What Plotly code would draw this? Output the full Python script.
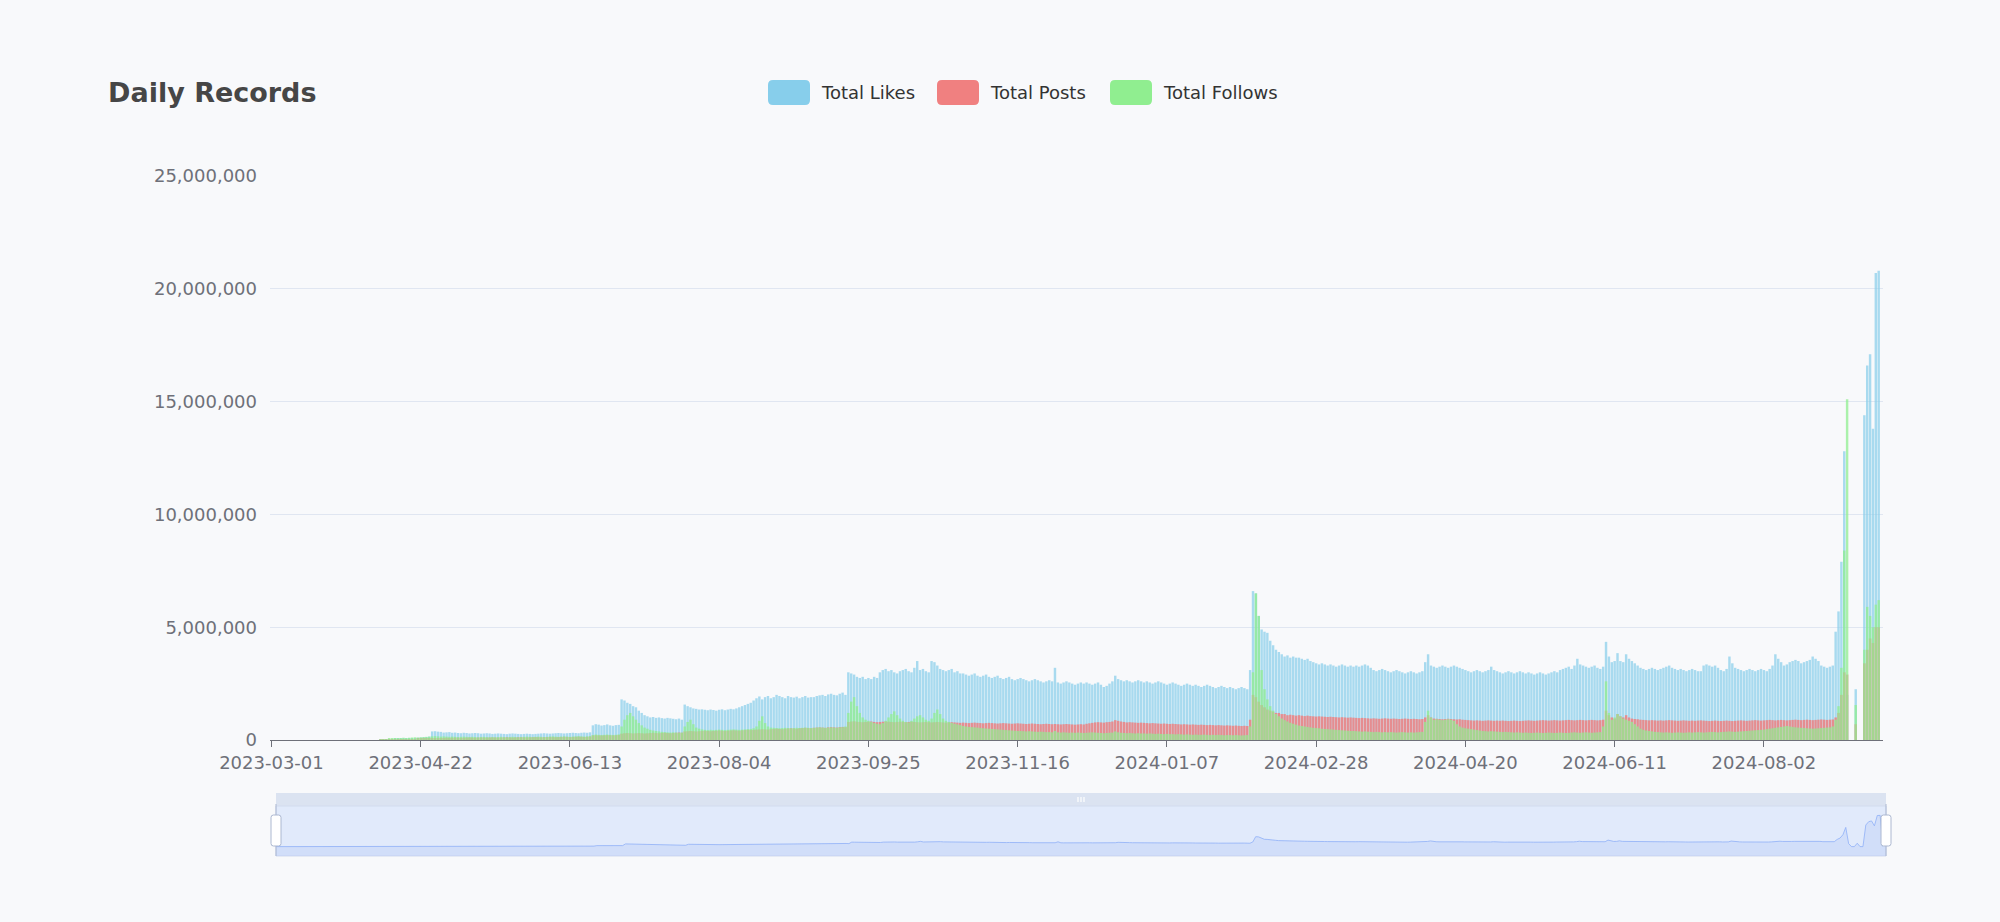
import datetime as dt
import plotly.graph_objects as go

# ---------------- data (values in thousands) ----------------
START = dt.date(2023, 3, 1)
N_DAYS = 562
dates = [(START + dt.timedelta(days=i)).isoformat() for i in range(N_DAYS)]

tick_labels = ["2023-03-01", "2023-04-22", "2023-06-13", "2023-08-04", "2023-09-25",
               "2023-11-16", "2024-01-07", "2024-02-28", "2024-04-20", "2024-06-11",
               "2024-08-02"]

likes_k = [
    0, 0, 0, 0, 0, 0, 0, 0, 0, 0, 0, 0, 0, 0, 0, 0, 0, 0, 0, 0,
    0, 0, 0, 0, 0, 0, 0, 0, 0, 0, 0, 0, 0, 0, 0, 0, 0, 0,
    20, 25, 30, 35, 40, 50, 45, 60, 70, 65, 80, 90, 85, 100, 110, 120, 130, 150,
    380, 390, 370, 360, 330, 340, 350, 320, 330, 310,
    300, 320, 310, 290, 300, 310, 300, 280, 290, 300,
    290, 270, 280, 290, 280, 270, 260, 280, 290, 280,
    270, 260, 270, 280, 270, 260, 270, 280, 290, 300,
    290, 280, 290, 300, 310, 300, 290, 300, 310, 320,
    310, 300, 320, 330, 320, 340,
    650, 700, 680, 640, 660, 690, 650, 630, 660, 670,
    1800, 1750, 1650, 1600, 1500, 1450, 1300, 1200, 1100, 1050,
    1000, 1020, 980, 1000, 970, 950, 980, 960, 940, 920, 950, 900,
    1570, 1500, 1450, 1400, 1380, 1350, 1360, 1340, 1320, 1350,
    1330, 1300, 1340, 1360, 1320, 1350, 1380, 1360, 1400,
    1450, 1500, 1550, 1600, 1650, 1750, 1850, 1930, 1800, 1900,
    1950, 1850, 1900, 2000, 1950, 1900, 1850, 1950, 1900, 1880,
    1920, 1850, 1900, 1950, 1880, 1900,
    1900, 1950, 1980, 2000, 1950, 2020, 2050, 2000, 1980, 2050, 2100, 2000,
    3000, 2950, 2900, 2800, 2750, 2800, 2700, 2750, 2700, 2800, 2750,
    3000, 3100, 3150, 3050, 3100, 3000, 2950, 3050, 3100, 3150,
    3050, 3000, 3200, 3500, 3100, 3150, 3050, 3000, 3500, 3450,
    3300, 3150, 3100, 3050, 3100, 3150, 3000, 3050, 2950,
    2950, 2900, 2850, 2900, 2950, 2850, 2800, 2850, 2900, 2800,
    2750, 2800, 2850, 2750, 2700, 2750, 2800, 2700, 2650, 2700,
    2750, 2700, 2650, 2600, 2650, 2700, 2650, 2600, 2550, 2600,
    2650, 2600, 3200, 2550, 2500, 2550, 2600, 2550, 2500, 2450, 2500, 2550, 2500,
    2550, 2500, 2450, 2500, 2550, 2450, 2350, 2400, 2500, 2600,
    2850, 2700, 2650, 2600, 2650, 2600, 2550, 2600, 2650, 2600,
    2550, 2600, 2550, 2500, 2550, 2600, 2550, 2500, 2450, 2500,
    2550, 2500, 2450, 2400, 2450, 2500, 2450, 2400, 2450, 2400,
    2350, 2400, 2450, 2400, 2350, 2300, 2350, 2400, 2350, 2300,
    2350, 2300, 2250, 2300, 2350, 2300, 2250,
    3100, 6600, 6500, 5500, 4900, 4800, 4750, 4400, 4200, 4000,
    3900, 3800, 3700, 3750, 3650, 3700, 3650, 3650, 3600, 3550,
    3600, 3500, 3450, 3400, 3350, 3400, 3350, 3300, 3350, 3300,
    3250, 3300, 3350, 3300, 3250, 3300, 3250,
    3300, 3250, 3300, 3350, 3300, 3200, 3100, 3050, 3100, 3150,
    3100, 3050, 3000, 3050, 3100, 3050, 3000, 2950, 3000, 3050,
    3000, 2950, 3000, 3050,
    3450, 3800, 3300, 3250, 3200, 3250, 3300, 3250, 3200, 3250, 3300, 3250, 3200,
    3150, 3100, 3050, 3000, 3050, 3100, 3050, 3000, 3050, 3100,
    3250, 3100, 3050, 3000, 2950, 3000, 3050, 3000, 2950, 3000,
    3050, 3000, 2950, 3000, 2950, 2900, 2950, 3000, 2950, 2900,
    2950, 3000, 3050, 3000, 3100, 3150,
    3200, 3250, 3150, 3300, 3600, 3350, 3300, 3250, 3200, 3250,
    3300, 3200, 3150, 3250, 4350, 3700, 3450, 3500,
    3850, 3500, 3450, 3800, 3600, 3500, 3400, 3300, 3200, 3150,
    3100, 3150, 3200, 3150, 3100, 3150, 3200, 3250, 3300, 3200,
    3150, 3100, 3150, 3100, 3050, 3100, 3150, 3100, 3050, 3050,
    3300, 3350, 3300, 3250, 3300, 3200, 3100, 3050, 3150, 3700,
    3400, 3200, 3150, 3100, 3050, 3100, 3150, 3100, 3050, 3100,
    3150, 3100, 3050, 3150, 3300, 3800, 3600, 3450, 3300, 3350,
    3450, 3500, 3550, 3500, 3400, 3450, 3500, 3550, 3700, 3600,
    3500, 3300, 3250, 3200, 3250, 3300, 4800,
    5700, 7900, 12800, 2000, 0, 0, 2250, 0, 0, 14400, 16600, 17100, 13800, 20700, 20800, 0,
]

posts_k = [
    0, 0, 0, 0, 0, 0, 0, 0, 0, 0, 0, 0, 0, 0, 0, 0, 0, 0, 0, 0,
    0, 0, 0, 0, 0, 0, 0, 0, 0, 0, 0, 0, 0, 0, 0, 0, 0, 0,
    5, 8, 10, 12, 15, 18, 20, 22, 25, 28, 30, 35, 40, 45, 50, 55, 60, 70,
    80, 85, 90, 90, 95, 100, 95, 100, 105, 100,
    95, 100, 105, 110, 105, 100, 105, 110, 110, 105,
    110, 115, 110, 105, 110, 115, 120, 115, 110, 115,
    120, 125, 120, 115, 120, 125, 130, 125, 120, 125,
    130, 135, 130, 125, 130, 135, 140, 135, 130, 135,
    140, 145, 140, 135, 140, 150,
    200, 210, 205, 200, 210, 215, 210, 205, 210, 220,
    280, 300, 310, 300, 290, 300, 310, 300, 290, 300,
    310, 320, 310, 300, 310, 320, 310, 300, 310, 320, 330, 320,
    380, 390, 400, 390, 380, 390, 400, 410, 400, 390,
    400, 410, 420, 410, 400, 410, 420, 430, 420, 410,
    430, 440, 450, 440, 450, 460, 470, 480, 470, 460,
    480, 490, 500, 490, 480, 500, 510, 520, 510, 500,
    520, 530, 540, 530, 520,
    540, 550, 560, 550, 540, 560, 570, 560, 550, 570, 580, 570,
    800, 820, 830, 810, 800, 790, 800, 810, 820, 800,
    790, 800, 810, 820, 810, 800, 790, 800, 810, 800,
    790, 800, 810, 800, 790, 780, 790, 800, 790, 780,
    790, 800, 790, 780, 770, 780, 790, 780, 770, 760,
    770, 760, 750, 760, 770, 760, 750, 740, 750, 760,
    750, 740, 730, 740, 750, 740, 730, 720, 730, 740,
    730, 720, 710, 720, 730, 720, 710, 700, 710, 720,
    710, 700, 710, 700, 690, 700, 710, 700, 690, 680, 690, 700, 690,
    720, 740, 760, 780, 790, 780, 770, 790, 800, 820,
    880, 850, 820, 800, 780, 790, 780, 770, 760, 770,
    760, 750, 740, 750, 740, 730, 720, 730, 720, 710,
    720, 710, 700, 690, 700, 690, 680, 690, 680, 670,
    680, 670, 660, 670, 660, 650, 660, 650, 640, 650,
    640, 630, 640, 630, 620, 630, 620,
    900, 2000, 1900, 1700, 1550, 1450, 1350, 1300, 1250, 1200,
    1200, 1150, 1150, 1100, 1120, 1100, 1080, 1100, 1080, 1060,
    1080, 1060, 1050, 1040, 1050, 1040, 1030, 1020, 1030, 1020,
    1010, 1000, 1010, 1000, 990, 1000, 990,
    980, 970, 980, 970, 960, 950, 960, 950, 940, 950,
    960, 950, 940, 950, 940, 930, 940, 950, 940, 930,
    940, 930, 920, 930, 1000, 1100, 1000, 950, 940, 930,
    920, 930, 940, 930, 920, 910, 920, 900, 890, 880,
    870, 860, 870, 860, 850, 860, 870, 860, 850, 860,
    850, 860, 850, 840, 850, 860, 850, 840, 850, 860,
    870, 860, 850, 860, 870, 880, 870, 860, 870, 880,
    870, 860, 870, 880, 890, 880, 870, 880, 890, 880,
    870, 880, 890, 880, 870, 880, 900,
    1300, 1100, 1000, 950, 1150, 1050, 1000, 1100, 1000, 950,
    930, 920, 900, 890, 880, 870, 880, 870, 860, 870,
    860, 870, 880, 870, 860, 850, 860, 870, 860, 850,
    860, 850, 860, 870, 860, 850, 840, 850, 860, 850,
    840, 850, 860, 850, 840, 850, 860, 870, 860, 850,
    860, 870, 880, 870, 860, 870, 880, 890, 880, 870,
    880, 890, 880, 870, 880, 890, 900, 890, 880, 890,
    900, 890, 880, 890, 900, 910, 900, 890, 900, 910, 1000,
    1200, 2000, 3000, 2900, 0, 0, 700, 0, 0, 3400, 4000, 4500, 4300, 5000, 5000, 0,
]

follows_k = [
    0, 0, 0, 0, 0, 0, 0, 0, 0, 0, 0, 0, 0, 0, 0, 0, 0, 0, 0, 0,
    0, 0, 0, 0, 0, 0, 0, 0, 0, 0, 0, 0, 0, 0, 0, 0, 0, 0,
    20, 30, 40, 50, 60, 70, 80, 90, 100, 90, 100, 110, 120, 110, 120, 130, 140, 150,
    160, 170, 160, 150, 160, 150, 140, 150, 140, 130,
    140, 150, 140, 130, 140, 130, 120, 130, 140, 130,
    120, 130, 120, 130, 140, 130, 120, 130, 140, 130,
    120, 130, 140, 150, 140, 130, 140, 150, 140, 130,
    140, 150, 160, 150, 140, 150, 160, 150, 140, 150,
    160, 170, 160, 150, 160, 170,
    220, 240, 230, 220, 230, 240, 230, 220, 230, 250,
    600, 900, 1100, 1200, 1050, 900, 750, 650, 550, 500,
    450, 420, 400, 380, 360, 350, 340, 330, 340, 330, 320, 330,
    600, 800, 900, 700, 550, 500, 470, 450, 440, 450,
    440, 450, 460, 450, 440, 450, 460, 470, 460, 450,
    460, 470, 480, 490, 520, 600, 850, 1050, 750, 600,
    550, 540, 530, 520, 530, 540, 530, 520, 530, 540,
    530, 540, 550, 540, 530,
    540, 550, 560, 550, 540, 550, 560, 550, 540, 560, 570, 600,
    1200, 1700, 1900, 1500, 1200, 1000, 900, 850, 800, 750,
    720, 700, 750, 850, 1000, 1150, 1270, 1100, 950, 850,
    800, 780, 850, 950, 1050, 1100, 1000, 900, 850, 950,
    1200, 1350, 1150, 950, 850, 800, 760, 720, 690, 660,
    620, 600, 580, 570, 560, 550, 530, 520, 510, 500,
    490, 480, 470, 460, 450, 440, 430, 420, 410, 400,
    400, 390, 380, 390, 380, 370, 360, 370, 360, 350,
    350, 340, 400, 340, 330, 340, 330, 320, 330, 320, 330, 320, 310,
    320, 330, 340, 330, 320, 310, 300, 310, 320, 330,
    380, 340, 320, 310, 300, 310, 300, 290, 300, 290,
    290, 280, 290, 280, 270, 280, 270, 260, 270, 260,
    260, 250, 260, 250, 240, 250, 240, 230, 240, 230,
    230, 240, 230, 220, 230, 220, 230, 220, 210, 220,
    220, 210, 220, 210, 200, 210, 220,
    600, 3000, 6500, 5500, 3100, 2250, 1800, 1500, 1300, 1150,
    1050, 950, 880, 820, 760, 720, 680, 640, 620, 600,
    580, 560, 540, 530, 520, 500, 490, 480, 470, 460,
    450, 440, 430, 420, 410, 400, 400,
    390, 380, 370, 380, 370, 360, 350, 360, 350, 340,
    350, 340, 350, 340, 330, 340, 350, 340, 330, 340,
    330, 340, 350, 360, 800, 1300, 1000, 900, 920, 900,
    880, 900, 920, 900, 850, 700, 600, 550, 520, 500,
    480, 460, 440, 420, 400, 390, 380, 390, 380, 370,
    360, 350, 360, 350, 340, 330, 340, 330, 320, 330,
    320, 310, 320, 330, 320, 310, 320, 330, 320, 310,
    320, 330, 320, 310, 320, 330, 340, 330, 320, 330,
    340, 330, 320, 330, 340, 350, 600,
    2600, 1200, 900, 1000, 1150, 1050, 950, 900, 850, 800,
    700, 600, 500, 450, 420, 400, 380, 360, 350, 340,
    330, 340, 330, 320, 330, 340, 330, 320, 330, 340,
    330, 340, 350, 340, 330, 340, 350, 360, 350, 340,
    350, 360, 370, 380, 370, 360, 370, 380, 390, 400,
    410, 420, 430, 440, 450, 460, 480, 500, 520, 540,
    560, 580, 600, 620, 600, 580, 560, 550, 540, 530,
    520, 510, 500, 510, 520, 530, 540, 550, 560, 600, 900,
    1500, 3200, 8400, 15100, 0, 0, 1550, 0, 0, 4000, 5900, 5500, 5000, 6000, 6200, 0,
]

for name, arr in (("likes", likes_k), ("posts", posts_k), ("follows", follows_k)):
    if len(arr) != N_DAYS:
        raise SystemExit(f"{name} has {len(arr)} values, expected {N_DAYS}")

likes = [v * 1000 for v in likes_k]
posts = [v * 1000 for v in posts_k]
follows = [v * 1000 for v in follows_k]

series_names = ["Total Likes", "Total Posts", "Total Follows"]
series_colors = ["#87CEEB", "#F08080", "#90EE90"]
series_opacity = [0.7, 0.85, 0.75]

# ---------------- layout geometry (pixels) ----------------
W_FIG, H_FIG = 2000, 922
L, R, T, B = 270, 1883, 176, 862
PW, PH = R - L, B - T


def px(x):
    return (x - L) / PW


def py(y):
    return (B - y) / PH


FONT = "DejaVu Sans"
AXIS_COLOR = "#6E7079"

fig = go.Figure()
for name, vals, col, op in zip(series_names, (likes, posts, follows), series_colors, series_opacity):
    fig.add_trace(go.Bar(x=dates, y=vals, name=name, marker=dict(color=col, line=dict(width=0)),
                         opacity=op, showlegend=False, xaxis="x", yaxis="y"))

# data shadow of the slider (first series)
fig.add_trace(go.Scatter(x=dates, y=likes, mode="lines", line=dict(color="#8fb0f7", width=0.8),
                         fill="tozeroy", fillcolor="rgba(143,176,247,0.2)",
                         showlegend=False, hoverinfo="skip", xaxis="x2", yaxis="y2"))

lmax = max(likes)
off = lmax * 0.3

shapes = []
# slider body
shapes.append(dict(type="rect", xref="paper", yref="paper", x0=px(276), x1=px(1886), y0=py(856), y1=py(806),
                   fillcolor="rgba(135,175,255,0.2)", line=dict(color="#d2dbee", width=1), layer="below"))
shapes.append(dict(type="rect", xref="paper", yref="y2", x0=px(276), x1=px(1886), y0=-off, y1=0,
                   fillcolor="rgba(143,176,247,0.2)", line=dict(width=0), layer="below"))
# move handle bar
shapes.append(dict(type="rect", xref="paper", yref="paper", x0=px(276), x1=px(1886), y0=py(806), y1=py(793),
                   fillcolor="rgba(210,219,238,0.75)", line=dict(width=0), layer="below"))
for dx in (-3, 0, 3):
    shapes.append(dict(type="line", xref="paper", yref="paper", x0=px(1081 + dx), x1=px(1081 + dx),
                       y0=py(802), y1=py(797), line=dict(color="#ffffff", width=1.2)))


def rrect(x0, y0, x1, y1, r):
    pts = [
        f"M {px(x0 + r)},{py(y0)}", f"L {px(x1 - r)},{py(y0)}", f"Q {px(x1)},{py(y0)} {px(x1)},{py(y0 + r)}",
        f"L {px(x1)},{py(y1 - r)}", f"Q {px(x1)},{py(y1)} {px(x1 - r)},{py(y1)}",
        f"L {px(x0 + r)},{py(y1)}", f"Q {px(x0)},{py(y1)} {px(x0)},{py(y1 - r)}",
        f"L {px(x0)},{py(y0 + r)}", f"Q {px(x0)},{py(y0)} {px(x0 + r)},{py(y0)}", "Z",
    ]
    return " ".join(pts)


# handles
for hx in (276, 1886):
    shapes.append(dict(type="line", xref="paper", yref="paper", x0=px(hx), x1=px(hx), y0=py(856), y1=py(804),
                       line=dict(color="#ACB8D1", width=1)))
    shapes.append(dict(type="path", xref="paper", yref="paper", path=rrect(hx - 5, 815, hx + 5, 846, 2.5),
                       fillcolor="#ffffff", line=dict(color="#ACB8D1", width=1)))

# legend
legend_items = [(768, 819), (937, 988), (1110, 1161)]
annotations = []
for (rx, tx), name, col in zip(legend_items, series_names, series_colors):
    shapes.append(dict(type="path", xref="paper", yref="paper", path=rrect(rx, 80, rx + 42, 105, 5),
                       fillcolor=col, line=dict(width=0)))
    annotations.append(dict(text=name, xref="paper", yref="paper", x=px(tx), y=py(92.5),
                            xanchor="left", yanchor="middle", showarrow=False,
                            font=dict(family=FONT, size=18, color="#333333")))

annotations.append(dict(text="<b>Daily Records</b>", xref="paper", yref="paper", x=px(106), y=py(93),
                        xanchor="left", yanchor="middle", showarrow=False,
                        font=dict(family=FONT, size=27, color="#464646")))

fig.update_layout(
    width=W_FIG, height=H_FIG,
    margin=dict(l=L, r=W_FIG - R, t=T, b=H_FIG - B, pad=0),
    paper_bgcolor="#f8f9fb", plot_bgcolor="rgba(0,0,0,0)",
    barmode="overlay", bargap=0.15,
    shapes=shapes, annotations=annotations,
    xaxis=dict(type="category", range=[-0.5, N_DAYS - 0.5], domain=[0, 1], anchor="y",
               tickmode="array", tickvals=tick_labels, ticktext=tick_labels,
               ticks="outside", ticklen=6, tickcolor=AXIS_COLOR, tickwidth=1,
               showline=True, linecolor=AXIS_COLOR, linewidth=1, showgrid=False,
               tickfont=dict(family=FONT, size=18, color=AXIS_COLOR), tickangle=0, fixedrange=True),
    yaxis=dict(range=[0, 25_000_000], domain=[py(740), 1], anchor="x", dtick=5_000_000, tick0=0,
               tickformat=",d", showgrid=True, gridcolor="#E0E6F1", gridwidth=1, zeroline=False,
               showline=False, ticks="", ticklabelstandoff=12,
               tickfont=dict(family=FONT, size=18, color=AXIS_COLOR), fixedrange=True),
    xaxis2=dict(type="category", range=[0, N_DAYS - 1], domain=[px(276), 1],
                anchor="y2", showticklabels=False, showgrid=False, zeroline=False, showline=False, ticks=""),
    yaxis2=dict(range=[-off, lmax + off], domain=[py(856), py(806)], anchor="x2",
                showticklabels=False, showgrid=False, zeroline=False, showline=False, ticks=""),
    hovermode=False,
)

fig.write_html("out.html")
